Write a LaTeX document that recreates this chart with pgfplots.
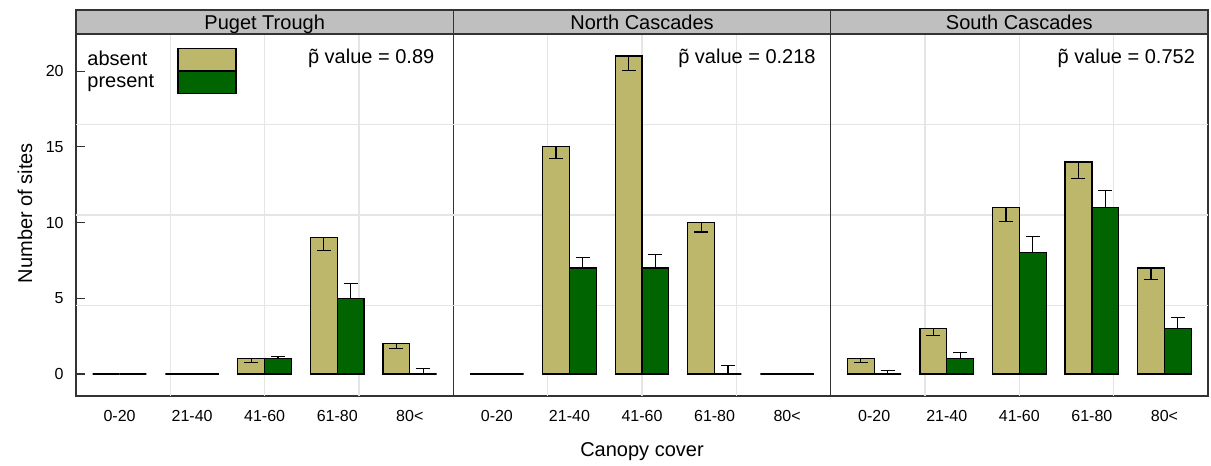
\documentclass[border=0pt]{standalone}
\usepackage{fontspec}
\setmainfont{Liberation Sans}
\usepackage{pgfplots}
\usepackage{pgfplotstable}
\pgfplotsset{compat=1.18}
\definecolor{absentc}{RGB}{189,183,107}
\definecolor{presentc}{RGB}{0,100,0}

\pgfplotstableread{
x a ae p pe
1 0 0 0 0
2 0 0 0 0
3 1 0.26 1 0.18
4 9 0.86 5 0.97
5 2 0.30 0 0.35
}\puget
\pgfplotstableread{
x a ae p pe
1 0 0 0 0
2 15 0.77 7 0.70
3 21 0.94 7 0.88
4 10 0.62 0 0.57
5 0 0 0 0
}\north
\pgfplotstableread{
x a ae p pe
1 1 0.26 0 0.24
2 3 0.44 1 0.42
3 11 0.95 8 1.08
4 14 1.10 11 1.10
5 7 0.77 3 0.75
}\south

\pgfplotsset{
  panel/.style={
    scale only axis, width=188.67pt, height=181pt,
    anchor=south west,
    xmin=0.4, xmax=5.6, ymin=-1.45, ymax=22.45,
    xtick={1,2,3,4,5}, xticklabels={0-20,21-40,41-60,61-80,80<},
    xtick style={draw=none},
    xticklabel style={anchor=base, yshift=-12.8pt, font=\fontsize{8}{9}\selectfont},
    extra x ticks={1.7,3,4.3}, extra x tick labels={},
    extra x tick style={grid=major, major tick length=0pt},
    extra y ticks={4.5,10.5,16.5}, extra y tick labels={},
    extra y tick style={grid=major, major tick length=0pt},
    major grid style={black!10, line width=0.6pt},
    axis line style={black!80, line width=0.7pt},
    clip=false,
    /pgf/number format/assume math mode=true,
  },
  absentbar/.style={ybar, bar width=0.37, bar shift=0pt, fill=absentc, draw=black, line width=0.6pt,
    error bars/.cd, y dir=minus, y explicit,
    error bar style={black, line width=0.6pt},
    error mark options={rotate=90, mark size=3.5pt, black, line width=0.6pt}},
  presentbar/.style={ybar, bar width=0.37, bar shift=0pt, fill=presentc, draw=black, line width=0.6pt,
    error bars/.cd, y dir=plus, y explicit,
    error bar style={black, line width=0.6pt},
    error mark options={rotate=90, mark size=3.5pt, black, line width=0.6pt}},
}
\newcommand{\strip}[1]{%
  \draw[fill=gray!50, draw=black!80, line width=0.7pt] (rel axis cs:0,1) rectangle ([yshift=12pt]rel axis cs:1,1);
  \node[anchor=base, font=\fontsize{10}{12}\selectfont, yshift=2pt] at (rel axis cs:0.5,1) {#1};}
\newcommand{\pval}[2]{%
  \node[anchor=base east, font=\fontsize{10}{12}\selectfont, xshift=#2, yshift=-15pt] at (rel axis cs:1,1) {\~{p} value = #1};}

\begin{document}
\begin{tikzpicture}
\useasboundingbox (0,0) rectangle (605.5pt,233pt);

\begin{axis}[panel, at={(38pt,35pt)},
  ytick={0,5,10,15,20}, ytick pos=left, tick align=inside, major tick length=4.5pt,
  ytick style={black!80, line width=0.6pt},
  yticklabel style={font=\fontsize{8}{9}\selectfont, inner sep=0pt, xshift=-6pt},
  legend plot pos=right, legend cell align=left,
  legend style={at={(rel axis cs:0,1)}, anchor=north west, xshift=5.5pt, yshift=-6.8pt,
    draw=none, fill=none, inner sep=0pt, row sep=0pt,
    font=\fontsize{10}{11}\selectfont, nodes={inner sep=0pt},
    /tikz/every odd column/.append style={column sep=11.6pt}},
  legend image code/.code={\draw[#1, draw=black, line width=0.6pt] (0pt,-5.5pt) rectangle (29pt,5.5pt);},
]
\addplot[absentbar] table[x expr=\thisrow{x}-0.185, y=a, y error=ae] {\puget};
\addlegendentry{absent}
\addplot[presentbar] table[x expr=\thisrow{x}+0.185, y=p, y error=pe] {\puget};
\addlegendentry{present}
\strip{Puget Trough}
\pval{0.89}{-6pt}
\end{axis}

\begin{axis}[panel, at={(226.67pt,35pt)}, ytick=\empty]
\addplot[absentbar] table[x expr=\thisrow{x}-0.185, y=a, y error=ae] {\north};
\addplot[presentbar] table[x expr=\thisrow{x}+0.185, y=p, y error=pe] {\north};
\strip{North Cascades}
\pval{0.218}{-4pt}
\end{axis}

\begin{axis}[panel, at={(415.33pt,35pt)}, ytick=\empty]
\addplot[absentbar] table[x expr=\thisrow{x}-0.185, y=a, y error=ae] {\south};
\addplot[presentbar] table[x expr=\thisrow{x}+0.185, y=p, y error=pe] {\south};
\strip{South Cascades}
\pval{0.752}{-3pt}
\end{axis}

\node[rotate=90, font=\fontsize{10}{12}\selectfont] at (12.5pt,126.5pt) {Number of sites};
\node[anchor=base, font=\fontsize{10}{12}\selectfont] at (321pt,4.5pt) {Canopy cover};
\end{tikzpicture}
\end{document}
